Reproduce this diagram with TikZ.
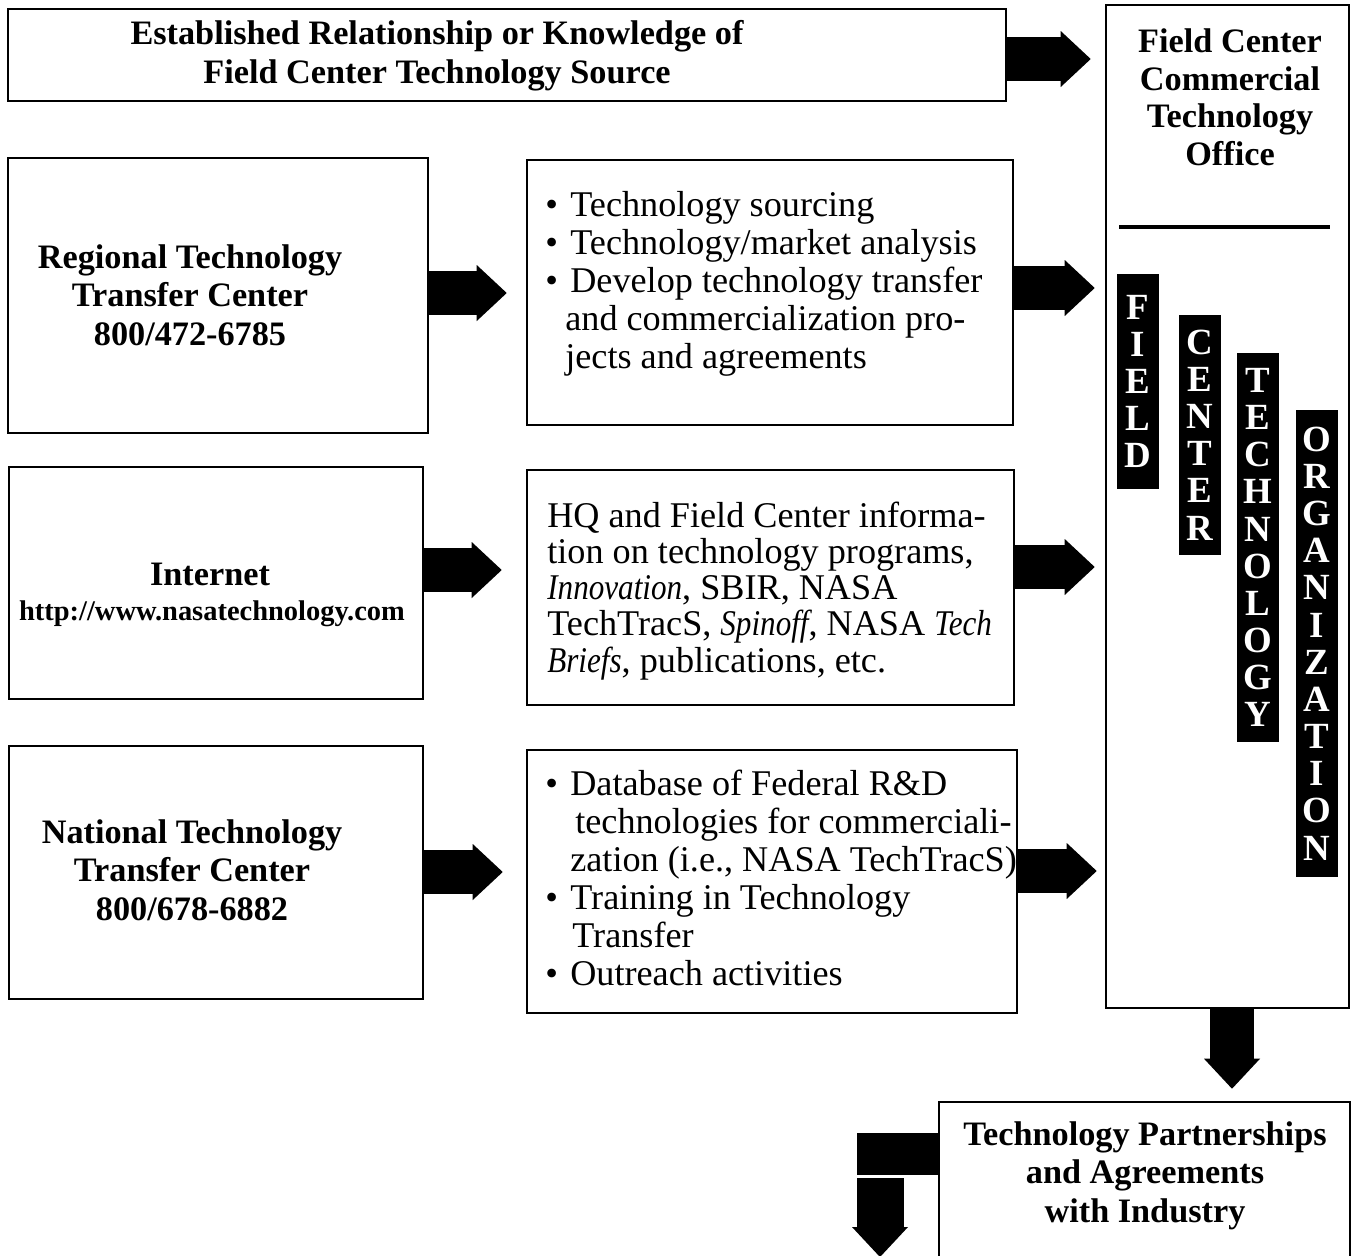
\documentclass[tikz,border=0pt]{standalone}
\usepackage{fontspec}
\setmainfont{Liberation Serif}[ItalicFeatures={FakeStretch=0.86}]
\usetikzlibrary{arrows.meta}

\newcommand{\bul}{\makebox[0.5cm][l]{\textbullet}}

\tikzset{
  box/.style={draw, line width=1.5pt, inner sep=0pt},
  title/.style={font=\fontsize{19.5}{21.9}\selectfont\bfseries, align=center, anchor=base},
  body/.style={font=\fontsize{20.6}{21.6}\selectfont, align=left, anchor=base west, inner sep=0pt},
  strip/.style={fill=black, text=white, inner sep=0pt, minimum width=0.84cm, align=center,
    font=\fontsize{21}{21.15}\selectfont\bfseries},
  bigarrow/.style={line width=0.88cm, -{Triangle[length=0.6cm, width=1.12cm, line width=0pt]}},
}

\begin{document}
\begin{tikzpicture}[x=0.02cm, y=-0.02cm]
    \path[use as bounding box, clip] (0,0) rectangle (1351,1255);

    % boxes
    \node[box, minimum width=19.96cm, minimum height=1.84cm] (source) at (507,55) {};
    \node[box, minimum width=4.86cm, minimum height=20.06cm] (office) at (1227.5,506.5) {};
    \node[box, minimum width=8.4cm, minimum height=5.5cm] (regional) at (218,295.5) {};
    \node[box, minimum width=9.72cm, minimum height=5.3cm] (svcrtc) at (770,292.5) {};
    \node[box, minimum width=8.28cm, minimum height=4.64cm] (internet) at (216,583) {};
    \node[box, minimum width=9.74cm, minimum height=4.7cm] (svcweb) at (770.5,587.5) {};
    \node[box, minimum width=8.28cm, minimum height=5.06cm] (national) at (216,872.5) {};
    \node[box, minimum width=9.8cm, minimum height=5.26cm] (svcntc) at (772,881.5) {};
    \node[box, minimum width=8.22cm, minimum height=3.96cm] (partner) at (1144.5,1201) {};

    % titles (anchored on the last line)
    \node[title] (sourcetxt) at (437,83) {Established Relationship or Knowledge of\\Field Center Technology Source};
    \node[title, font=\fontsize{19.5}{21.3}\selectfont\bfseries] (officetxt) at (1230,165) {Field Center\\Commercial\\Technology\\Office};
    \draw[line width=0.08cm] (1119,227) -- (1330,227);
    \node[title] (regionaltxt) at (190,345) {Regional Technology\\Transfer Center\\800/472-6785};
    \node[title] (internettxt) at (210,585) {Internet};
    \node[title, font=\fontsize{16.2}{18}\selectfont\bfseries] (url) at (212,620) {http://www.nasatechnology.com};
    \node[title] (nationaltxt) at (192,920) {National Technology\\Transfer Center\\800/678-6882};
    \node[title] (partnertxt) at (1145,1222) {Technology Partnerships\\and Agreements\\with Industry};

    % services
    \node[body] (svcrtctxt) at (545,368) {\bul Technology sourcing\\
        \bul Technology/market analysis\\
        \bul Develop technology transfer\\
        \hspace*{0.4cm}and commercialization pro-\\
        \hspace*{0.4cm}jects and agreements};
    \node[body, font=\fontsize{20.6}{20.6}\selectfont] (svcwebtxt) at (547,672) {HQ and Field Center informa-\\
        tion on technology programs,\\
        \textit{Innovation}, SBIR, NASA\\
        TechTracS, \textit{Spinoff}, NASA \textit{Tech}\\
        \textit{Briefs}, publications, etc.};
    \node[body] (svcntctxt) at (545,985) {\bul Database of Federal R\&D\\
        \hspace*{0.6cm}technologies for commerciali-\\
        \hspace*{0.5cm}zation (i.e., NASA TechTracS)\\
        \bul Training in Technology\\
        \hspace*{0.54cm}Transfer\\
        \bul Outreach activities};

    % vertical strips
    \node[strip, minimum height=4.3cm] (stripfield) at (1138,381.5) {F\\I\\E\\L\\D};
    \node[strip, minimum height=4.8cm] (stripcenter) at (1199.5,435) {C\\E\\N\\T\\E\\R};
    \node[strip, minimum height=7.78cm] (striptech) at (1258,547.5) {T\\E\\C\\H\\N\\O\\L\\O\\G\\Y};
    \node[strip, minimum height=9.34cm] (striporg) at (1317,643.5) {O\\R\\G\\A\\N\\I\\Z\\A\\T\\I\\O\\N};

    % arrows
    \draw[bigarrow, shorten >=0.28cm] (source.east |- 0,59) -- (office.west |- 0,59);
    \draw[bigarrow, shorten >=0.38cm] (regional.east |- 0,293) -- (svcrtc.west |- 0,293);
    \draw[bigarrow, shorten >=0.2cm] (svcrtc.east |- 0,288) -- (office.west |- 0,288);
    \draw[bigarrow, shorten >=0.48cm] (internet.east |- 0,570) -- (svcweb.west |- 0,570);
    \draw[bigarrow, shorten >=0.2cm] (svcweb.east |- 0,567) -- (office.west |- 0,567);
    \draw[bigarrow, shorten >=0.46cm] (national.east |- 0,872) -- (svcntc.west |- 0,872);
    \draw[bigarrow, shorten >=0.16cm] (svcntc.east |- 0,871) -- (office.west |- 0,871);
    \draw[bigarrow, shorten >=0.24cm] (office.south -| 1232,0) -- (partner.north -| 1232,0);
    \coordinate (elbow) at (857,1154);
    \coordinate (drop) at (880,1178);
    \coordinate (exit) at (880,1257);
    \draw[line width=0.84cm] (partner.west |- elbow) -- (elbow);
    \draw[bigarrow, line width=0.94cm] (drop) -- (exit);
\end{tikzpicture}
\end{document}
